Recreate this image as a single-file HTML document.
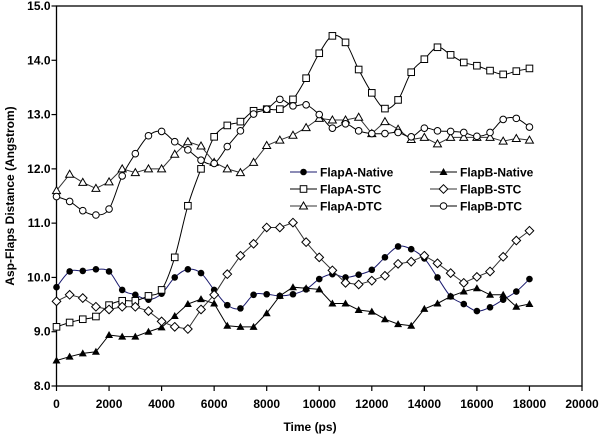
<!DOCTYPE html>
<html><head><meta charset="utf-8"><style>
body{margin:0;background:#fff;}
svg text{font-family:"Liberation Sans",Arial,sans-serif;font-weight:bold;}
</style></head><body>
<svg id="chart" width="600" height="436" xmlns="http://www.w3.org/2000/svg">
<rect x="0" y="0" width="600" height="436" fill="#fff"/>
<g id="grid"></g>
<g id="series"></g>
<g id="legend"></g>
<text x="14" y="196" transform="rotate(-90 14 196)" text-anchor="middle" font-size="12">Asp-Flaps Distance (Angstrom)</text>
<text x="310" y="431" text-anchor="middle" font-size="12">Time (ps)</text>
</svg>
<script>
const times=[0,500,1000,1500,2000,2500,3000,3500,4000,4500,5000,5500,6000,6500,7000,7500,8000,8500,9000,9500,10000,10500,11000,11500,12000,12500,13000,13500,14000,14500,15000,15500,16000,16500,17000,17500,18000];
const flapANative=[9.82,10.11,10.12,10.15,10.11,9.77,9.68,9.59,9.7,10.0,10.15,10.08,9.77,9.49,9.43,9.68,9.69,9.66,9.69,9.78,9.97,10.06,10.0,10.05,10.14,10.37,10.57,10.52,10.35,10.0,9.65,9.51,9.38,9.45,9.59,9.74,9.97];
const flapBNative=[8.47,8.54,8.6,8.63,8.94,8.91,8.91,9.0,9.08,9.29,9.51,9.6,9.52,9.11,9.09,9.09,9.34,9.66,9.82,9.8,9.78,9.52,9.52,9.4,9.37,9.23,9.14,9.11,9.42,9.52,9.65,9.74,9.8,9.68,9.68,9.46,9.51];
const flapASTC=[9.09,9.17,9.23,9.28,9.49,9.57,9.57,9.66,9.77,10.37,11.32,12.0,12.59,12.8,12.87,13.07,13.1,13.1,13.28,13.67,14.13,14.45,14.33,13.83,13.4,13.11,13.27,13.78,14.02,14.24,14.1,13.96,13.9,13.81,13.74,13.8,13.85];
const flapBSTC=[9.56,9.68,9.62,9.46,9.41,9.46,9.46,9.38,9.19,9.09,9.05,9.41,9.68,10.06,10.4,10.62,10.92,10.92,11.01,10.65,10.37,10.13,9.9,9.87,9.94,10.03,10.25,10.29,10.4,10.26,10.08,9.9,10.01,10.11,10.38,10.68,10.86];
const flapADTC=[11.6,11.9,11.75,11.64,11.76,12.0,11.93,12.0,12.0,12.27,12.5,12.42,12.12,12.0,11.93,12.12,12.43,12.53,12.62,12.76,12.93,12.9,12.9,12.95,12.65,12.87,12.73,12.54,12.58,12.46,12.58,12.58,12.58,12.58,12.51,12.56,12.53];
const flapBDTC=[11.49,11.4,11.23,11.15,11.26,11.87,12.28,12.61,12.69,12.5,12.35,12.16,12.1,12.41,12.7,13.01,13.1,13.28,13.16,13.18,13.0,12.75,12.83,12.7,12.65,12.65,12.67,12.59,12.75,12.7,12.69,12.67,12.6,12.67,12.91,12.93,12.77];
const xTicks=[0,2000,4000,6000,8000,10000,12000,14000,16000,18000,20000];
const yTicks=[8.0,9.0,10.0,11.0,12.0,13.0,14.0,15.0];
const seriesNames=["FlapA-Native","FlapB-Native","FlapA-STC","FlapB-STC","FlapA-DTC","FlapB-DTC"];

const NS="http://www.w3.org/2000/svg";
const L=56.5,R=582,T=6,B=386;
const xS=v=>L+(v-0)/20000*(R-L);
const yS=v=>B-(v-8)/7*(B-T);
function mk(tag,attrs,parent){const e=document.createElementNS(NS,tag);for(const k in attrs)e.setAttribute(k,attrs[k]);parent.appendChild(e);return e;}
const grid=document.getElementById('grid');
const frame=mk('rect',{x:L,y:T,width:R-L,height:B-T,fill:'none',stroke:'#000','stroke-width':1.3},grid);


yTicks.forEach(v=>{
  const t=mk('line',{x1:L-5,x2:L,y1:yS(v),y2:yS(v),stroke:'#000','stroke-width':1.2},grid);
  
  
  const tx=mk('text',{x:L-6,y:yS(v)+4,'text-anchor':'end','font-size':12},grid);
  tx.textContent=v.toFixed(1);
  
  
});
xTicks.forEach(v=>{
  const t=mk('line',{x1:xS(v),x2:xS(v),y1:B,y2:B+5,stroke:'#000','stroke-width':1.2},grid);
  
  
  const tx=mk('text',{x:xS(v),y:B+22,'text-anchor':'middle','font-size':12},grid);
  tx.textContent=v;
  
  
});
function pathFor(pts,smooth){
  let d='M'+pts[0][0]+','+pts[0][1];
  for(let i=0;i<pts.length-1;i++){
    if(!smooth){d+='L'+pts[i+1][0]+','+pts[i+1][1];continue;}
    const p0=pts[i-1]||pts[i],p1=pts[i],p2=pts[i+1],p3=pts[i+2]||p2;
    const c1=[p1[0]+(p2[0]-p0[0])/6,p1[1]+(p2[1]-p0[1])/6];
    const c2=[p2[0]-(p3[0]-p1[0])/6,p2[1]-(p3[1]-p1[1])/6];
    d+='C'+c1+' '+c2+' '+p2;
  }
  return d;
}
function marker(type,x,y,g){
  let e;
  if(type==='fcircle')e=mk('circle',{cx:x,cy:y,r:3.3,fill:'#000'},g);
  else if(type==='ocircle')e=mk('circle',{cx:x,cy:y,r:3.3,fill:'#fff',stroke:'#000','stroke-width':1},g);
  else if(type==='ftri')e=mk('path',{d:`M${x},${y-4}L${x+4},${y+3}L${x-4},${y+3}Z`,fill:'#000'},g);
  else if(type==='otri')e=mk('path',{d:`M${x},${y-4}L${x+4},${y+3}L${x-4},${y+3}Z`,fill:'#fff',stroke:'#000','stroke-width':1},g);
  else if(type==='osq')e=mk('rect',{x:x-3.3,y:y-3.3,width:6.6,height:6.6,fill:'#fff',stroke:'#000','stroke-width':1},g);
  else if(type==='odia')e=mk('path',{d:`M${x},${y-4.3}L${x+4.3},${y}L${x},${y+4.3}L${x-4.3},${y}Z`,fill:'#fff',stroke:'#000','stroke-width':1},g);
  return e;
}
const cfg=[
 {data:flapANative,mk:'fcircle',color:'#1a1a6e',smooth:true,key:'flapa-native'},
 {data:flapBNative,mk:'ftri',color:'#000',smooth:false,key:'flapb-native'},
 {data:flapASTC,mk:'osq',color:'#000',smooth:true,key:'flapa-stc'},
 {data:flapBSTC,mk:'odia',color:'#333',smooth:false,key:'flapb-stc'},
 {data:flapADTC,mk:'otri',color:'#333',smooth:false,key:'flapa-dtc'},
 {data:flapBDTC,mk:'ocircle',color:'#000',smooth:true,key:'flapb-dtc'}];
const sg=document.getElementById('series');
cfg.forEach(c=>{
  const g=mk('g',{},sg);
  
  
  const pts=times.map((t,i)=>[xS(t),yS(c.data[i])]);
  const p=mk('path',{d:pathFor(pts,c.smooth),fill:'none',stroke:c.color,'stroke-width':1},g);
  
  
  pts.forEach(q=>{
    const m=marker(c.mk,q[0],q[1],g);
    
    
  });
});
const lg=document.getElementById('legend');
const lpos=[[290,172],[430,172],[290,189],[430,189],[290,206],[430,206]];
cfg.forEach((c,i)=>{
  const [x,y]=lpos[i];
  const g=mk('g',{},lg);
  
  
  mk('line',{x1:x,x2:x+27,y1:y,y2:y,stroke:c.color,'stroke-width':1},g);
  marker(c.mk,x+13.5,y,g);
  const t=mk('text',{x:x+30,y:y+4.5,'font-size':12},g);
  t.textContent=seriesNames[i];
});
</script>
</body></html>
